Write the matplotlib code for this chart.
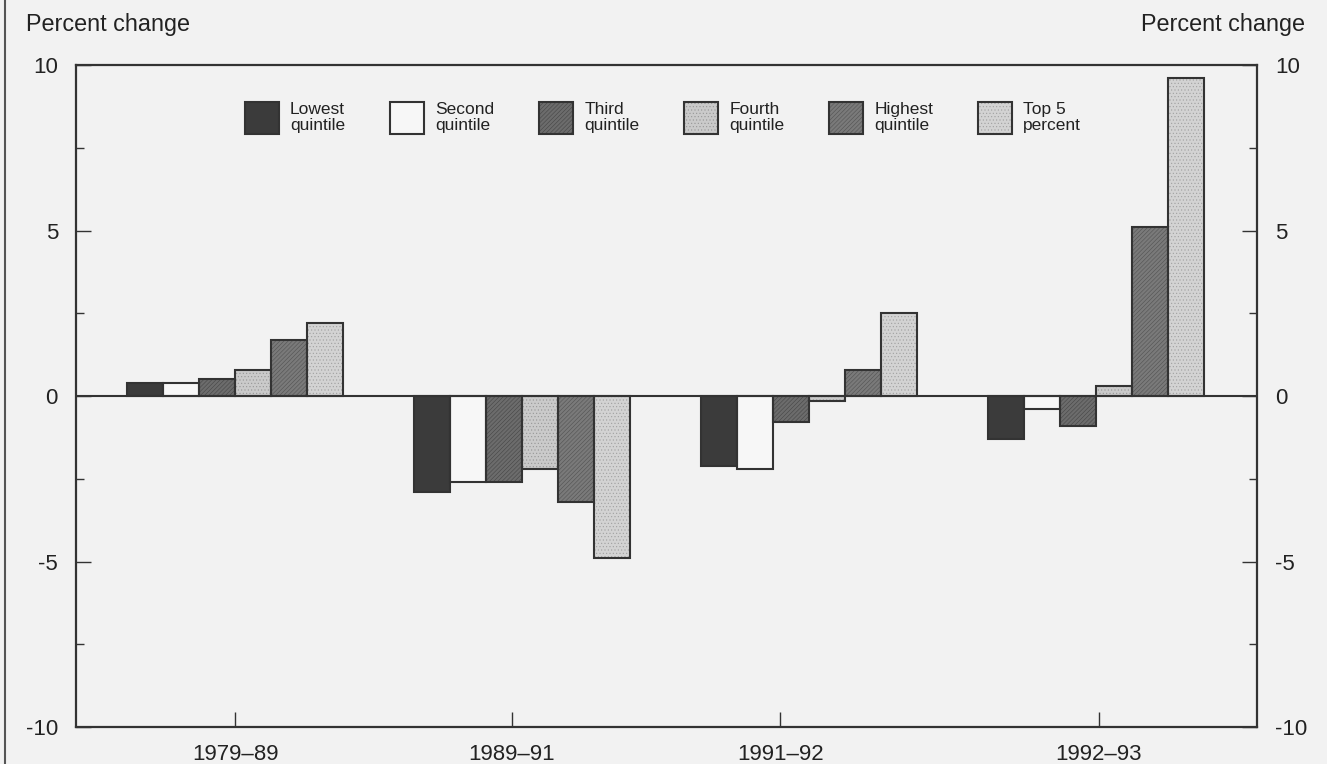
import matplotlib
matplotlib.use("Agg")
from matplotlib import pyplot as plt
from matplotlib.ticker import MultipleLocator
import numpy as np

plt.rcParams['font.family'] = ['Liberation Sans', 'DejaVu Sans']
plt.rcParams['axes.unicode_minus'] = False
plt.rcParams['hatch.linewidth'] = 0.4

periods = ['1979\u201389', '1989\u201391', '1991\u201392', '1992\u201393']
groups = ['Lowest\nquintile', 'Second\nquintile', 'Third\nquintile',
          'Fourth\nquintile', 'Highest\nquintile', 'Top 5\npercent']

lowest = [0.4, -2.9, -2.1, -1.3]
second = [0.4, -2.6, -2.2, -0.4]
third = [0.5, -2.6, -0.8, -0.9]
fourth = [0.8, -2.2, -0.15, 0.3]
highest = [1.7, -3.2, 0.8, 5.1]
top5 = [2.2, -4.9, 2.5, 9.6]

# tick marks in the original sit a bit off the group centres
tick_pos = [0.0, 0.965, 1.9, 3.01]

faces = ['#3b3b3b', '#f7f7f7', '#6c6c6c', '#cacaca', '#7a7a7a', '#d3d3d3']
hatch_cols = ['#3b3b3b', '#f7f7f7', '#464646', '#959595', '#525252', '#a0a0a0']
hatches = [None, None, '////////', '.....', '////////', '.....']
bg = '#f2f2f2'
ink = '#333333'

fig = plt.figure(figsize=(13.27, 7.64), dpi=100, facecolor=bg)
ax = fig.add_axes([0.0573, 0.0484, 0.8900, 0.8665], facecolor=bg)

x = np.arange(len(periods))
w = 0.125
handles = []
for i, vals in enumerate([lowest, second, third, fourth, highest, top5]):
    pos = x + (i - 2.5) * w
    b1 = ax.bar(pos, vals, w, color=faces[i], edgecolor=hatch_cols[i],
                hatch=hatches[i], linewidth=0, zorder=2)
    b2 = ax.bar(pos, vals, w, fill=False, edgecolor=ink, linewidth=1.5, zorder=3)
    handles.append((b1[0], b2[0]))

ax.axhline(0, color=ink, linewidth=1.5, zorder=4)

ax.set_xlim(-0.554, 3.561)
ax.set_ylim(-10, 10)
ax.set_xticks(tick_pos)
ax.set_xticklabels(periods)
ax.yaxis.set_major_locator(MultipleLocator(5))
ax.yaxis.set_minor_locator(MultipleLocator(2.5))
ax.yaxis.set_major_formatter(plt.FuncFormatter(lambda v, p: '%d' % v))

ax.tick_params(axis='both', which='both', direction='in', colors=ink,
               labelcolor='#222222', labelsize=16)
ax.tick_params(axis='y', which='both', left=True, right=True, labelleft=True,
               labelright=True)
ax.tick_params(axis='y', which='major', length=11, width=1, pad=13)
ax.tick_params(axis='y', which='minor', length=6, width=1)
ax.tick_params(axis='x', which='major', length=11, width=1, pad=12)
for s in ax.spines.values():
    s.set_color(ink)
    s.set_linewidth(1.6)

leg = ax.legend(handles, groups, loc='upper left', bbox_to_anchor=(0.143, 0.9445),
                ncol=6, frameon=False, fontsize=12.5, borderpad=0, borderaxespad=0,
                handlelength=1.95, handleheight=2.45, handletextpad=0.65,
                columnspacing=2.58)
for t in leg.get_texts():
    t.set_linespacing(1.12)
    t.set_color('#222222')

fig.text(26 / 1327, 1 - 25 / 764, 'Percent change', ha='left', va='center',
         fontsize=16.8, color='#222222')
fig.text(1305 / 1327, 1 - 25 / 764, 'Percent change', ha='right', va='center',
         fontsize=16.8, color='#222222')
fig.add_artist(plt.Line2D([5 / 1327, 5 / 1327], [0, 1], transform=fig.transFigure,
                          color='#555555', linewidth=1.5))

fig.savefig('out.png', dpi=100, facecolor=bg)
